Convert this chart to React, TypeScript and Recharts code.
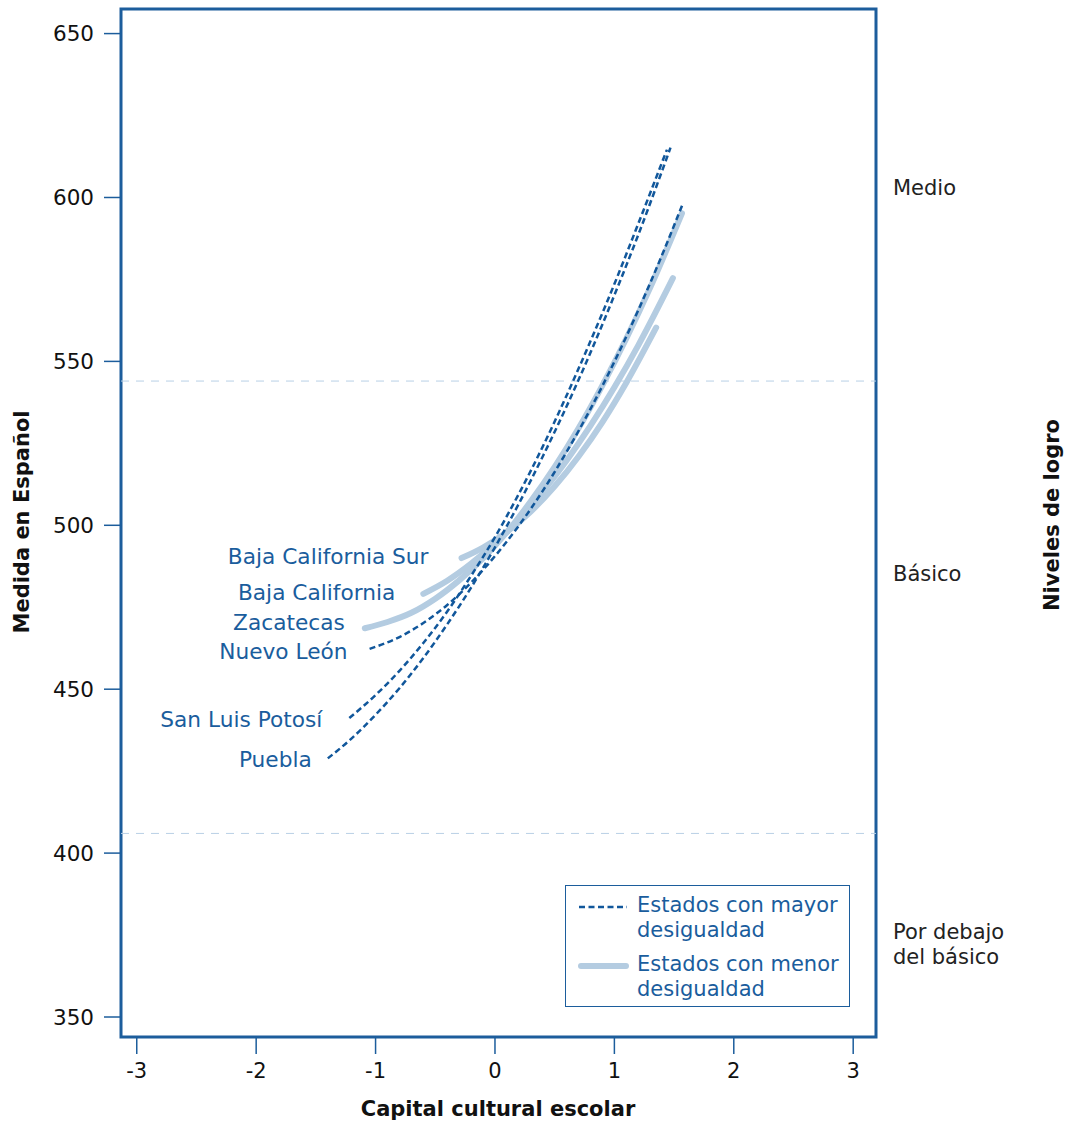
import React from "react";
import {
  LineChart, Line, XAxis, YAxis, ReferenceLine, ReferenceArea, Legend,
} from "recharts";

// axis ticks and level cut-offs
const X_TICKS = [-3, -2, -1, 0, 1, 2, 3];
const Y_TICKS = [350, 400, 450, 500, 550, 600, 650];
const LEVEL_TICKS = [603, 485, 372];
const LEVEL_LABELS = [["Medio"], ["Básico"], ["Por debajo", "del básico"]];
const CUTOFFS = [544, 406];

const PUEBLA = [
  [-1.4, 428.9], [-1.2, 435.0], [-1.0, 442.2], [-0.8, 450.3], [-0.6, 459.5], [-0.4, 469.8],
  [-0.2, 481.0], [0, 493.3], [0.2, 506.6], [0.4, 521.0], [0.6, 536.3], [0.8, 552.7],
  [1.0, 570.2], [1.2, 588.6], [1.47, 615.2],
];
const SAN_LUIS = [
  [-1.22, 441.2], [-1.0, 448.2], [-0.8, 455.6], [-0.6, 464.1], [-0.4, 473.7], [-0.2, 484.6],
  [0, 496.4], [0.2, 509.6], [0.4, 524.0], [0.6, 539.6], [0.8, 556.2], [1.0, 573.6],
  [1.2, 592.0], [1.44, 614.6],
];
const NUEVO_LEON = [
  [-1.05, 462.3], [-0.8, 465.9], [-0.6, 470.2], [-0.4, 475.7], [-0.2, 482.5], [0, 490.6],
  [0.2, 499.9], [0.4, 510.5], [0.6, 522.4], [0.8, 535.5], [1.0, 549.9], [1.2, 565.6],
  [1.4, 582.5], [1.575, 598.3],
];
const BCS = [
  [-0.28, 490.0], [-0.1, 493.2], [0.1, 498.0], [0.3, 504.2], [0.5, 511.9], [0.7, 521.0],
  [0.9, 531.5], [1.1, 543.5], [1.35, 560.3],
];
const BAJA_CALIFORNIA = [
  [-0.6, 479.1], [-0.4, 483.1], [-0.2, 488.3], [0, 494.5], [0.2, 501.8], [0.4, 510.3],
  [0.6, 519.8], [0.8, 530.4], [1.0, 542.1], [1.2, 554.9], [1.49, 575.4],
];
const ZACATECAS = [
  [-1.09, 468.6], [-0.9, 470.5], [-0.7, 473.3], [-0.5, 477.6], [-0.3, 483.2], [-0.1, 489.9],
  [0.1, 497.9], [0.3, 507.3], [0.5, 517.8], [0.7, 529.6], [0.9, 542.7], [1.1, 557.0],
  [1.3, 572.5], [1.566, 595.2],
];

const X_DOMAIN = [-3.132, 3.191];
const Y_DOMAIN = [343.9, 657.5];

const DARK = "#11579b";
const FRAME = "#1c5d9c";
const LIGHT = "#b4cce1";
const TEXT_BLUE = "#1a5d9d";
const FONT = "'DejaVu Sans', Verdana, sans-serif";

const pts = (arr: number[][]) => arr.map(([x, y]) => ({ x, y }));

const SERIES = [
  { name: "Baja California Sur", data: BCS, kind: "menor", gap: 33, dy: -2 },
  { name: "Baja California", data: BAJA_CALIFORNIA, kind: "menor", gap: 28, dy: -1 },
  { name: "Zacatecas", data: ZACATECAS, kind: "menor", gap: 20, dy: -6 },
  { name: "Nuevo León", data: NUEVO_LEON, kind: "mayor", gap: 22, dy: 3 },
  { name: "San Luis Potosí", data: SAN_LUIS, kind: "mayor", gap: 27, dy: 1 },
  { name: "Puebla", data: PUEBLA, kind: "mayor", gap: 16, dy: 1 },
];

const startLabel = (name: string, gap: number, dy: number) => (p: any) =>
  p.index === 0 ? (
    <text key={`${name}-lbl`} x={p.cx - gap} y={p.cy + dy} textAnchor="end" dominantBaseline="central"
      fontFamily={FONT} fontSize={21.7} fill={TEXT_BLUE}>{name}</text>
  ) : (
    <g key={`${name}-${p.index}`} />
  );

const LevelTick = (props: any) => {
  const { x, y, payload } = props;
  const i = LEVEL_TICKS.indexOf(payload.value);
  const lines = LEVEL_LABELS[i] || [];
  const top = y - ((lines.length - 1) * 25) / 2;
  return (
    <text x={x} y={top} fontFamily={FONT} fontSize={21} fill="#222" dominantBaseline="central">
      {lines.map((l, k) => (
        <tspan key={k} x={x} y={top + k * 25}>{l}</tspan>
      ))}
    </text>
  );
};

const LegendBox = () => (
  <div style={{ position: "relative", width: 285, height: 122, border: `1.5px solid ${FRAME}`, boxSizing: "border-box", background: "#fff", fontFamily: FONT, fontSize: 21, color: TEXT_BLUE }}>
    <svg width={70} height={122} style={{ position: "absolute", left: 0, top: 0 }}>
      <line x1={13} x2={61} y1={21} y2={21} stroke={DARK} strokeWidth={2.5} strokeDasharray="6 3.5" />
      <line x1={15} x2={60} y1={80} y2={80} stroke={LIGHT} strokeWidth={6} strokeLinecap="round" />
    </svg>
    <div style={{ position: "absolute", left: 71, top: 7, lineHeight: "25px" }}>
      Estados con mayor<br />desigualdad
    </div>
    <div style={{ position: "absolute", left: 71, top: 66, lineHeight: "25px" }}>
      Estados con menor<br />desigualdad
    </div>
  </div>
);

export default function App() {
  return (
    <div style={{ position: "absolute", left: 0, top: 0, width: 1066, height: 1121, background: "#fff" }}>
      <LineChart width={1066} height={1121} margin={{ top: 9, right: 0, bottom: 54, left: 0 }}>
        <XAxis type="number" dataKey="x" domain={X_DOMAIN} ticks={X_TICKS} allowDataOverflow
          axisLine={false} tickSize={17} tickMargin={9} height={30}
          tickLine={{ stroke: FRAME, strokeWidth: 1.5 }}
          tick={{ fontFamily: FONT, fontSize: 21, fill: "#111" }} />
        <YAxis type="number" domain={Y_DOMAIN} ticks={Y_TICKS} allowDataOverflow width={121}
          axisLine={false} tickSize={17} tickMargin={10}
          tickLine={{ stroke: FRAME, strokeWidth: 1.5 }}
          tick={{ fontFamily: FONT, fontSize: 21.5, fill: "#111" }} />
        <YAxis yAxisId="lvl" orientation="right" type="number" domain={Y_DOMAIN} ticks={LEVEL_TICKS}
          allowDataOverflow width={190} axisLine={false} tickLine={false} tickSize={0} tickMargin={17}
          tick={<LevelTick />} />
        {CUTOFFS.map((c) => (
          <ReferenceLine key={c} y={c} stroke="#b9d0e6" strokeWidth={1} strokeDasharray="8 7" />
        ))}
        {SERIES.filter((s) => s.kind === "menor").map((s) => (
          <Line key={s.name} data={pts(s.data)} dataKey="y" type="monotone" stroke={LIGHT}
            strokeWidth={6} strokeLinecap="round" dot={startLabel(s.name, s.gap, s.dy)}
            activeDot={false} isAnimationActive={false} legendType="none" />
        ))}
        {SERIES.filter((s) => s.kind === "mayor").map((s) => (
          <Line key={s.name} data={pts(s.data)} dataKey="y" type="monotone" stroke={DARK}
            strokeWidth={2.5} strokeDasharray="6 3.5" dot={startLabel(s.name, s.gap, s.dy)}
            activeDot={false} isAnimationActive={false} legendType="none" />
        ))}
        <ReferenceArea x1={X_DOMAIN[0]} x2={X_DOMAIN[1]} y1={Y_DOMAIN[0]} y2={Y_DOMAIN[1]}
          fill="none" fillOpacity={0} stroke={FRAME} strokeWidth={3} ifOverflow="visible" />
        <Legend layout="vertical" verticalAlign="middle" align="center" content={<LegendBox />}
          wrapperStyle={{ left: 565, top: 885, width: 285, height: 122 }} />
      </LineChart>
      <div style={{ position: "absolute", left: 498, top: 1109, transform: "translate(-50%, -50%)", fontFamily: FONT, fontWeight: "bold", fontSize: 21, whiteSpace: "nowrap", color: "#111" }}>
        Capital cultural escolar
      </div>
      <div style={{ position: "absolute", left: 22, top: 522, transform: "translate(-50%, -50%) rotate(-90deg)", fontFamily: FONT, fontWeight: "bold", fontSize: 21, whiteSpace: "nowrap", color: "#111" }}>
        Medida en Español
      </div>
      <div style={{ position: "absolute", left: 1052, top: 515, transform: "translate(-50%, -50%) rotate(-90deg)", fontFamily: FONT, fontWeight: "bold", fontSize: 21, whiteSpace: "nowrap", color: "#111" }}>
        Niveles de logro
      </div>
    </div>
  );
}
